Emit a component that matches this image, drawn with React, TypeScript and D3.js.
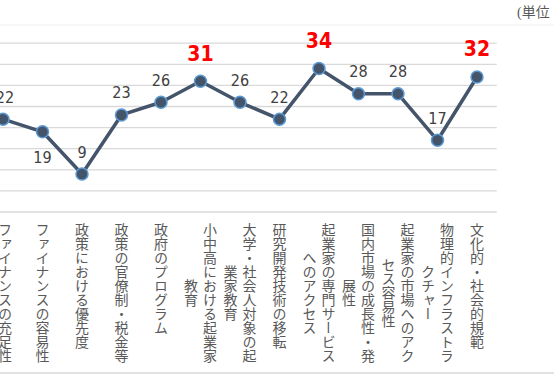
import React from "react";
import * as d3 from "d3";

const categoryLines: string[][] = [
  ["ファイナンスの充足性"],
  ["ファイナンスの容易性"],
  ["政策における優先度"],
  ["政策の官僚制・税金等"],
  ["政府のプログラム"],
  ["小中高における起業家", "教育"],
  ["大学・社会人対象の起", "業家教育"],
  ["研究開発技術の移転"],
  ["起業家の専門サービス", "へのアクセス"],
  ["国内市場の成長性・発", "展性"],
  ["起業家の市場へのアク", "セス容易性"],
  ["物理的インフラストラ", "クチャー"],
  ["文化的・社会的規範"],
];
const categories = categoryLines.map((l) => l.join(""));
const values = [22, 19, 9, 23, 26, 31, 26, 22, 34, 28, 28, 17, 32];
const labelBelow = [false, true, false, false, false, false, false, false, false, false, false, false, false];
const yTicks = [0, 5, 10, 15, 20, 25, 30, 35, 40];
const unitText = "(単位：%)";

const W = 554;
const H = 380;

export default function App() {
  const x = d3.scaleBand<string>().domain(categories).range([-16.75, 496.75]);
  const y = d3.scaleLinear().domain([0, 40]).range([212, 43.2]);
  const cx = (i: number) => (x(categories[i]) as number) + x.bandwidth() / 2;
  const top3 = [...values].sort((a, b) => b - a).slice(0, 3);
  const line = d3
    .line<number>()
    .x((_, i) => cx(i))
    .y((d) => y(d));
  const adv = 14.2;
  const labelTop = 222;
  const colGap = 19;
  return (
    <svg
      width={W}
      height={H}
      style={{ position: "fixed", left: 0, top: 0, background: "#fff" }}
      fontFamily="'Noto Sans CJK JP', sans-serif"
    >
      <rect width={W} height={H} fill="#fff" />
      <text x={517} y={17} fontSize={14} fill="#595959" fontFamily="'Liberation Serif', 'Noto Sans CJK JP', serif">
        {unitText}
      </text>
      <line x1={0} x2={W} y1={25} y2={25} stroke="#eeeeee" strokeWidth={1} />
      {yTicks.map((t) => (
        <line key={t} x1={-20} x2={496.75} y1={y(t)} y2={y(t)} stroke="#d9d9d9" strokeWidth={1.3} />
      ))}
      <line x1={0} x2={W} y1={373} y2={373} stroke="#d9d9d9" strokeWidth={1.3} />
      <path d={line(values) || ""} fill="none" stroke="#44546A" strokeWidth={3.5} strokeLinejoin="round" />
      {values.map((v, i) => (
        <circle key={i} cx={cx(i)} cy={y(v)} r={6} fill="#44546A" stroke="#5B9BD5" strokeWidth={1.5} />
      ))}
      {values.map((v, i) => {
        const hi = top3.includes(v);
        const yy = labelBelow[i] ? y(v) + 31 : hi ? y(v) - 20.5 : y(v) - 16.5;
        return (
          <text
            key={i}
            x={cx(i) + (i === 0 ? 2 : 0)}
            y={yy}
            textAnchor="middle"
            fontFamily="'Liberation Sans Narrow', 'DejaVu Sans Condensed', sans-serif"
            fontSize={hi ? 21 : 16}
            fontWeight={hi ? "bold" : "normal"}
            fill={hi ? "#FF0000" : "#404040"}
          >
            {v}
          </text>
        );
      })}
      {categoryLines.map((lines, i) => {
        const maxLen = d3.max(lines, (l) => l.length) as number;
        const center = labelTop + (maxLen * adv) / 2;
        const n = lines.length;
        return lines.map((l, j) => {
          const off = ((n - 1) / 2 - j) * colGap;
          return (
            <text
              key={i + "-" + j}
              x={cx(i) + off + (i === 0 ? 2 : 0)}
              y={center}
              textAnchor="middle"
              fontSize={14}
              fill="#595959"
              style={{ writingMode: "vertical-rl" as any }}
            >
              {l}
            </text>
          );
        });
      })}
    </svg>
  );
}
